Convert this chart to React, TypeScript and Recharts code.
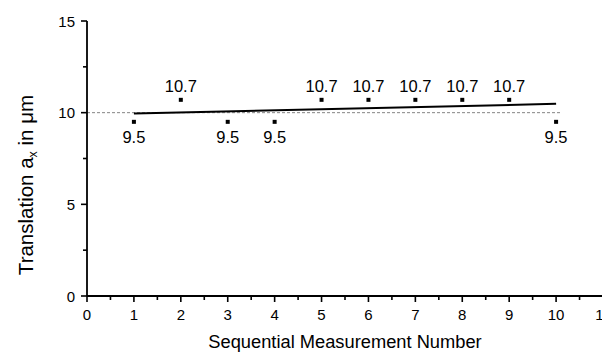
import React from 'react';
import {
  ComposedChart,
  Scatter,
  XAxis,
  YAxis,
  ReferenceLine,
  Label
} from 'recharts';

const measurementNumbers = [1, 2, 3, 4, 5, 6, 7, 8, 9, 10];
const translationValues = [9.5, 10.7, 9.5, 9.5, 10.7, 10.7, 10.7, 10.7, 10.7, 9.5];

// linear fit
const fitX = [1, 10];
const fitY = [9.96, 10.48];

const xTicks = [0, 0.5, 1, 1.5, 2, 2.5, 3, 3.5, 4, 4.5, 5, 5.5, 6, 6.5, 7, 7.5, 8, 8.5, 9, 9.5, 10, 10.5, 11];
const xLabelTicks = [0, 1, 2, 3, 4, 5, 6, 7, 8, 9, 10, 11];
const yTicks = [0, 2.5, 5, 7.5, 10, 12.5, 15];
const yLabelTicks = [0, 5, 10, 15];
const referenceLevel = 10;

const points = measurementNumbers.map((n, i) => ({ x: n, y: translationValues[i] }));
const fitLine = fitX.map((x, i) => ({ x, y: fitY[i] }));

const FONT = '"Liberation Sans", Arial, sans-serif';

const XTick = (props: any) => {
  const { x, y, payload } = props;
  const major = xLabelTicks.includes(payload.value);
  return (
    <g>
      <line x1={x} x2={x} y1={y} y2={y + (major ? 6 : 4)} stroke="#000" strokeWidth={1.6} />
      {major && (
        <text x={x} y={y + 23.5} textAnchor="middle" fontSize={15} fill="#000" fontFamily={FONT}>
          {payload.value}
        </text>
      )}
    </g>
  );
};

const YTick = (props: any) => {
  const { x, y, payload } = props;
  const major = yLabelTicks.includes(payload.value);
  return (
    <g>
      <line x1={x} x2={x - (major ? 6 : 4)} y1={y} y2={y} stroke="#000" strokeWidth={1.6} />
      {major && (
        <text x={x - 12} y={y + 5.5} textAnchor="end" fontSize={15} fill="#000" fontFamily={FONT}>
          {payload.value}
        </text>
      )}
    </g>
  );
};

const PointShape = (props: any) => {
  const { cx, cy, payload } = props;
  const above = payload.y >= referenceLevel;
  return (
    <g>
      <rect x={cx - 2} y={cy - 2} width={4} height={4} fill="#000" />
      <text
        x={cx}
        y={above ? cy - 8 : cy + 21.5}
        textAnchor="middle"
        fontSize={16.5}
        fill="#000"
        fontFamily={FONT}
      >
        {payload.y.toFixed(1)}
      </text>
    </g>
  );
};

const XTitle = (props: any) => {
  const { viewBox } = props;
  return (
    <text
      x={viewBox.x + viewBox.width / 2}
      y={340}
      textAnchor="middle"
      fontSize={18.3}
      fill="#000"
      fontFamily={FONT}
    >
      Sequential Measurement Number
    </text>
  );
};

const YTitle = () => {
  const cx = 25;
  const cy = 177;
  return (
    <text
      x={cx}
      y={cy}
      transform={`rotate(-90, ${cx}, ${cy})`}
      textAnchor="middle"
      fontSize={20.5}
      fill="#000"
      fontFamily={FONT}
    >
      Translation a
      <tspan dy={4} fontSize={12.5}>x</tspan>
      <tspan dy={-4}> in μm</tspan>
    </text>
  );
};

export default function App() {
  return (
    <ComposedChart
      width={602}
      height={346}
      margin={{ top: 13, right: 7, bottom: 0, left: 0 }}
    >
      <XAxis
        type="number"
        dataKey="x"
        domain={[0, 11]}
        ticks={xTicks}
        interval={0}
        tickSize={0}
        tickMargin={0}
        tickLine={false}
        tick={<XTick />}
        axisLine={{ stroke: '#000', strokeWidth: 1.8 }}
        height={58}
        allowDataOverflow
      >
        <Label content={<XTitle />} />
      </XAxis>
      <YAxis
        type="number"
        dataKey="y"
        domain={[0, 15]}
        ticks={yTicks}
        interval={0}
        tickSize={0}
        tickMargin={0}
        tickLine={false}
        tick={<YTick />}
        axisLine={{ stroke: '#000', strokeWidth: 1.8 }}
        width={79}
        allowDataOverflow
      >
        <Label content={<YTitle />} />
      </YAxis>
      <ReferenceLine
        segment={[{ x: 0, y: referenceLevel }, { x: 10.1, y: referenceLevel }]}
        stroke="#666"
        strokeWidth={0.8}
        strokeDasharray="3 2"
      />
      <Scatter
        data={fitLine}
        line={{ stroke: '#000', strokeWidth: 2 }}
        shape={() => <g />}
        isAnimationActive={false}
      />
      <Scatter data={points} shape={<PointShape />} isAnimationActive={false} />
    </ComposedChart>
  );
}
